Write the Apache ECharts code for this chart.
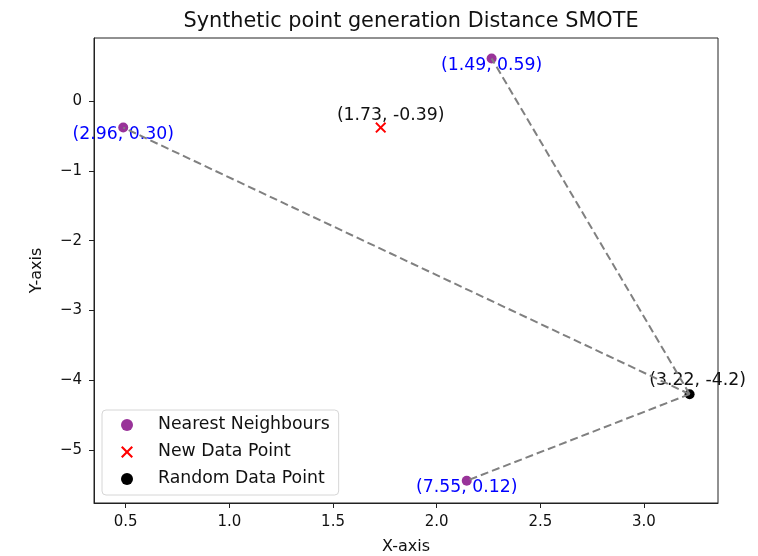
<!DOCTYPE html>
<html>
<head>
<meta charset="utf-8">
<script src="https://cdn.jsdelivr.net/npm/echarts@6/dist/echarts.min.js"></script>
<style>html,body{margin:0;padding:0;background:#fff}#c{width:758px;height:556px}</style>
</head>
<body>
<div id="c"></div>
<script>
// ---- data ----
var nbX = [0.488, 2.265, 2.145];
var nbY = [-0.38, 0.61, -5.44];
var nbLabels = ['(2.96, 0.30)', '(1.49, 0.59)', '(7.55, 0.12)'];
var newX = [1.73];
var newY = [-0.38];
var newLabels = ['(1.73, -0.39)'];
var randX = [3.22];
var randY = [-4.20];
var randLabels = ['(3.22, -4.2)'];
var xTicks = [0.5, 1.0, 1.5, 2.0, 2.5, 3.0];
var yTicks = [0, -1, -2, -3, -4, -5];
var xRange = [0.347, 3.357];
var yRange = [-5.759, 0.903];

var FONT = 'DejaVu Sans';
var xPath = 'path://M2.5,0 L10,7.5 L17.5,0 L20,2.5 L12.5,10 L20,17.5 L17.5,20 L10,12.5 L2.5,20 L0,17.5 L7.5,10 L0,2.5 Z';

function pts(xs, ys, names) {
  return xs.map(function (x, i) { return { value: [x, ys[i]], name: names ? names[i] : '' }; });
}

var series = [];
// dashed connection lines (drawn on top of markers like the reference)
for (var i = 0; i < nbX.length; i++) {
  series.push({
    type: 'line',
    data: [[randX[0], randY[0]], [nbX[i], nbY[i]]],
    symbol: 'none',
    silent: true,
    z: 5,
    lineStyle: { color: '#808080', width: 2, type: [8, 4] }
  });
}
series.push({
  name: 'Nearest Neighbours',
  type: 'scatter',
  data: pts(nbX, nbY, nbLabels),
  symbol: 'circle',
  symbolSize: 10,
  z: 3,
  itemStyle: { color: '#993399', opacity: 1 },
  label: { show: true, formatter: '{b}', position: 'inside', offset: [0, 7],
           color: '#0000ff', opacity: 1, fontFamily: FONT, fontSize: 17.3 }
});
series.push({
  name: 'New Data Point',
  type: 'scatter',
  data: pts(newX, newY, newLabels),
  symbol: xPath,
  symbolSize: 11,
  z: 3,
  itemStyle: { color: '#ff0000', opacity: 1 },
  label: { show: true, formatter: '{b}', position: 'inside', offset: [10, -12],
           color: '#111', opacity: 1, fontFamily: FONT, fontSize: 17.3 }
});
series.push({
  name: 'Random Data Point',
  type: 'scatter',
  data: pts(randX, randY, randLabels),
  symbol: 'circle',
  symbolSize: 10,
  z: 3,
  itemStyle: { color: '#000', opacity: 1 },
  label: { show: true, formatter: '{b}', position: 'inside', offset: [8, -14],
           color: '#111', opacity: 1, fontFamily: FONT, fontSize: 17.3 }
});

var chart = echarts.init(document.getElementById('c'), null, { renderer: 'canvas' });
chart.setOption({
  animation: false,
  backgroundColor: '#fff',
  title: {
    text: 'Synthetic point generation Distance SMOTE',
    left: 406, top: 6, textAlign: 'center',
    textStyle: { fontFamily: FONT, fontSize: 20.8, fontWeight: 'normal', color: '#111' }
  },
  grid: { left: 94, top: 38, width: 624, height: 465, show: true,
          outerBoundsMode: 'none', containLabel: false,
          borderColor: '#222', borderWidth: 1, backgroundColor: 'transparent' },
  legend: {
    orient: 'vertical', left: 102, top: 410,
    padding: [5, 9, 6, 19],
    itemWidth: 12, itemHeight: 12, itemGap: 7,
    backgroundColor: 'rgba(255,255,255,0.8)',
    borderColor: '#d6d6d6', borderWidth: 1, borderRadius: 4,
    textStyle: { fontFamily: FONT, fontSize: 17.3, color: '#111', lineHeight: 20, padding: [0, 0, 0, 20] },
    data: [
      { name: 'Nearest Neighbours', icon: 'circle' },
      { name: 'New Data Point', icon: xPath },
      { name: 'Random Data Point', icon: 'circle' }
    ]
  },
  xAxis: {
    type: 'value', min: xRange[0], max: xRange[1],
    name: 'X-axis', nameLocation: 'middle', nameGap: 36,
    nameTextStyle: { fontFamily: FONT, fontSize: 16, color: '#111' },
    splitLine: { show: false },
    axisLine: { show: true, onZero: false, lineStyle: { color: '#222', width: 1 } },
    axisTick: { show: true, length: 5, customValues: xTicks, lineStyle: { color: '#222' } },
    axisLabel: { customValues: xTicks, margin: 12, fontFamily: FONT, fontSize: 15, color: '#111',
                 formatter: function (v) { return v.toFixed(1); } }
  },
  yAxis: {
    type: 'value', min: yRange[0], max: yRange[1],
    name: 'Y-axis', nameLocation: 'middle', nameGap: 49,
    nameTextStyle: { fontFamily: FONT, fontSize: 16, color: '#111' },
    splitLine: { show: false },
    axisLine: { show: true, onZero: false, lineStyle: { color: '#222', width: 1 } },
    axisTick: { show: true, length: 5, customValues: yTicks, lineStyle: { color: '#222' } },
    axisLabel: { customValues: yTicks, margin: 12, fontFamily: FONT, fontSize: 15, color: '#111',
                 formatter: function (v) { return v === 0 ? '0' : (v < 0 ? '\u2212' + Math.abs(v) : String(v)); } }
  },
  series: series
});
</script>
</body>
</html>
